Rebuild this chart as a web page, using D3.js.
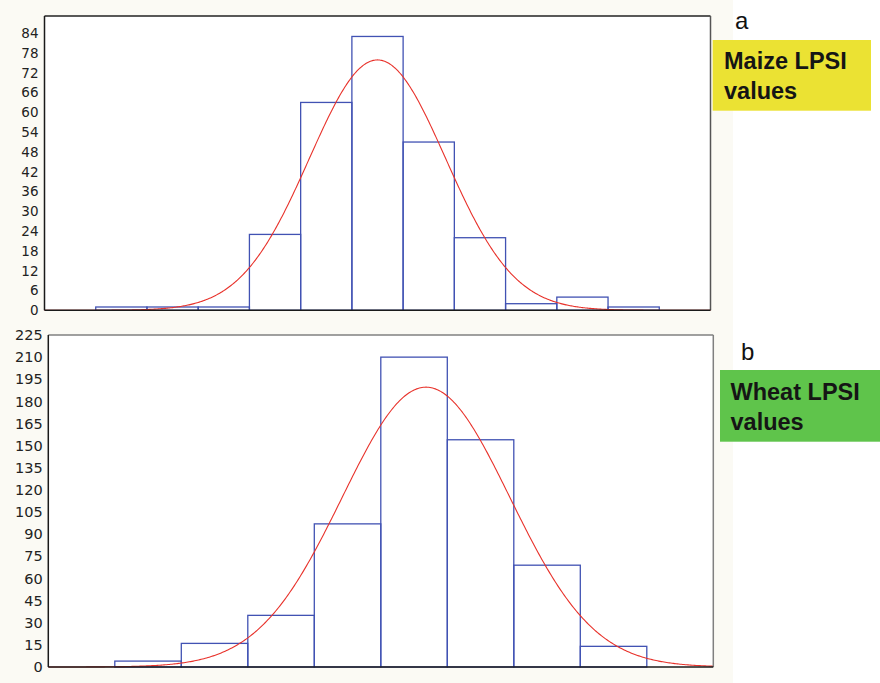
<!DOCTYPE html>
<html>
<head>
<meta charset="utf-8">
<script src="https://cdn.jsdelivr.net/npm/d3@7/dist/d3.min.js"></script>
<style>
  html, body { margin: 0; padding: 0; background: #ffffff; }
  svg { display: block; }
  .tick text { font-family: "DejaVu Sans", Arial, sans-serif; fill: #222; }
</style>
</head>
<body>
<svg id="chart" width="880" height="683"></svg>
<script>
// Histogram counts per class (classes numbered from 1 along the x axis)
const maizeCounts = [1, 1, 1, 23, 63, 83, 51, 22, 2, 4, 1];
const wheatCounts = [4, 16, 35, 97, 210, 154, 69, 14];

// Fitted normal curves, in class-width units
const maizeFit = { mean: 6.5, sd: 1.33, n: 253 };
const wheatFit = { mean: 5.68, sd: 1.26, n: 599 };

// Y axis tick labels
const maizeTicks = d3.range(0, 85, 6);
const wheatTicks = d3.range(0, 226, 15);

const svg = d3.select("#chart");

// Page backdrop
svg.append("rect").attr("x", 0).attr("y", 0).attr("width", 733).attr("height", 683)
  .attr("fill", "#fbfaf4");

function panel(opts) {
  const g = svg.append("g");
  const x = d3.scaleLinear().domain([0, opts.counts.length + 2]).range([opts.left, opts.right]);
  const y = d3.scaleLinear().domain(opts.yDomain).range([opts.bottom, opts.top]);

  // plot area
  g.append("rect")
    .attr("x", opts.left).attr("y", opts.top)
    .attr("width", opts.right - opts.left).attr("height", opts.bottom - opts.top)
    .attr("fill", "#ffffff");

  // bars
  g.append("g").selectAll("rect")
    .data(opts.counts)
    .join("rect")
    .attr("x", (d, i) => x(i + 1))
    .attr("y", d => y(d))
    .attr("width", (d, i) => x(i + 2) - x(i + 1))
    .attr("height", d => y(0) - y(d))
    .attr("fill", "none")
    .attr("stroke", "#4152b3")
    .attr("stroke-width", 1.3);

  // fitted normal curve
  const f = opts.fit;
  const pdf = t => f.n / (f.sd * Math.sqrt(2 * Math.PI)) * Math.exp(-0.5 * ((t - f.mean) / f.sd) ** 2);
  const xs = d3.range(0, opts.counts.length + 2 + 0.001, 0.02);
  g.append("path")
    .datum(xs)
    .attr("fill", "none")
    .attr("stroke", "#e8322b")
    .attr("stroke-width", 1.1)
    .attr("d", d3.line().x(t => x(t)).y(t => y(pdf(t))));

  // frame: light top/right, dark left/bottom
  g.append("line").attr("x1", opts.left).attr("x2", opts.right).attr("y1", opts.top).attr("y2", opts.top)
    .attr("stroke", opts.topColor).attr("stroke-width", 1.5);
  g.append("line").attr("x1", opts.right).attr("x2", opts.right).attr("y1", opts.top).attr("y2", opts.bottom)
    .attr("stroke", opts.rightColor).attr("stroke-width", 1.5);
  g.append("line").attr("x1", opts.left).attr("x2", opts.left).attr("y1", opts.top).attr("y2", opts.bottom)
    .attr("stroke", "#1a1a1a").attr("stroke-width", 1.5);
  g.append("line").attr("x1", opts.left).attr("x2", opts.right).attr("y1", opts.bottom).attr("y2", opts.bottom)
    .attr("stroke", "#1a1a1a").attr("stroke-width", 1.5);

  // y axis labels
  const ax = g.append("g").attr("transform", `translate(${opts.left},0)`)
    .call(d3.axisLeft(y).tickValues(opts.ticks).tickSize(0).tickPadding(opts.pad));
  ax.select(".domain").remove();
  ax.selectAll("text").style("font-size", opts.fontSize + "px");

  // panel letter and caption box
  svg.append("text").attr("x", opts.letterX).attr("y", opts.letterY)
    .attr("font-family", "Liberation Sans, Arial, sans-serif").attr("font-size", 24)
    .attr("fill", "#111").text(opts.letter);
  svg.append("rect").attr("x", opts.boxX).attr("y", opts.boxY)
    .attr("width", opts.boxW).attr("height", opts.boxH).attr("fill", opts.boxColor);
  opts.caption.forEach((line, i) => {
    svg.append("text").attr("x", opts.textX).attr("y", opts.textY + i * 30)
      .attr("font-family", "Liberation Sans, Arial, sans-serif").attr("font-size", 23.5)
      .attr("font-weight", "bold").attr("fill", "#151515").text(line);
  });
}

panel({
  counts: maizeCounts, fit: maizeFit, ticks: maizeTicks,
  yDomain: [0, 89.2], left: 44.5, right: 710.5, top: 16, bottom: 310.3,
  topColor: "#222", rightColor: "#555", pad: 6, fontSize: 13.5,
  letter: "a", letterX: 735, letterY: 29,
  boxX: 712.7, boxY: 40, boxW: 158.3, boxH: 70.7, boxColor: "#ebe233",
  caption: ["Maize LPSI", "values"], textX: 724, textY: 69
});

panel({
  counts: wheatCounts, fit: wheatFit, ticks: wheatTicks,
  yDomain: [0, 225], left: 48.3, right: 713.3, top: 335, bottom: 667,
  topColor: "#808080", rightColor: "#808080", pad: 5.5, fontSize: 14.5,
  letter: "b", letterX: 741, letterY: 360,
  boxX: 720, boxY: 370, boxW: 160, boxH: 71.7, boxColor: "#5fc44b",
  caption: ["Wheat LPSI", "values"], textX: 730.5, textY: 400
});
</script>
</body>
</html>
